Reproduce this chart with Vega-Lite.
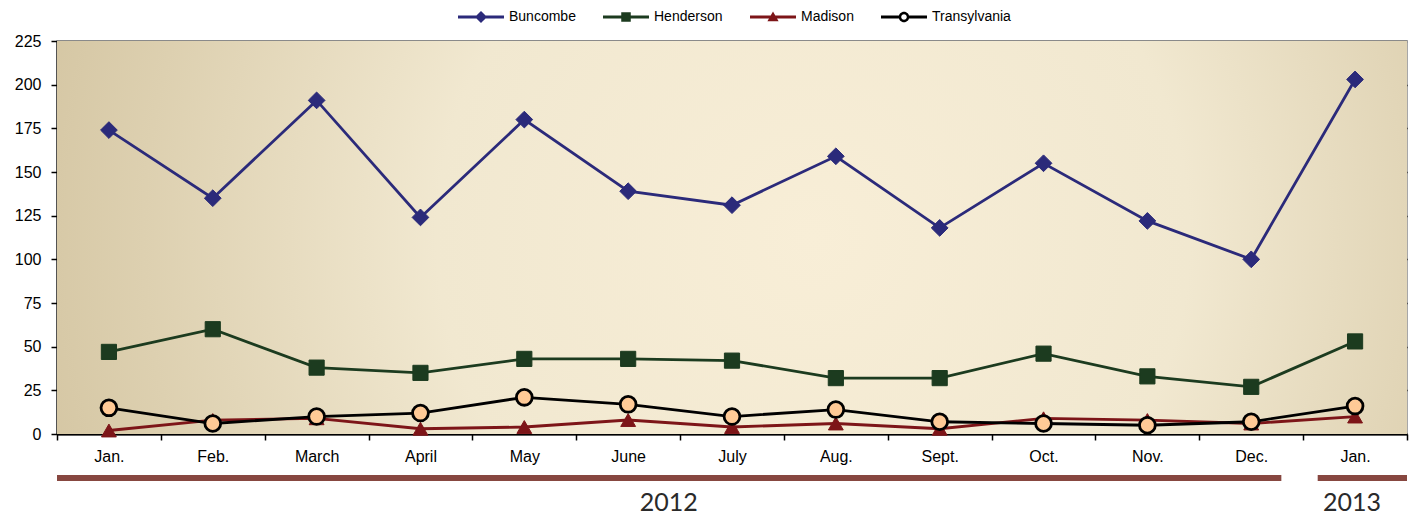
{
  "$schema": "https://vega.github.io/schema/vega-lite/v6.json",
  "padding": {"left": 13, "top": 10, "right": 7, "bottom": 0},
  "background": "white",
  "datasets": {
    "counts": [
      {"month": "Jan. 2012", "county": "Buncombe", "value": 174},
      {"month": "Feb. 2012", "county": "Buncombe", "value": 135},
      {"month": "March 2012", "county": "Buncombe", "value": 191},
      {"month": "April 2012", "county": "Buncombe", "value": 124},
      {"month": "May 2012", "county": "Buncombe", "value": 180},
      {"month": "June 2012", "county": "Buncombe", "value": 139},
      {"month": "July 2012", "county": "Buncombe", "value": 131},
      {"month": "Aug. 2012", "county": "Buncombe", "value": 159},
      {"month": "Sept. 2012", "county": "Buncombe", "value": 118},
      {"month": "Oct. 2012", "county": "Buncombe", "value": 155},
      {"month": "Nov. 2012", "county": "Buncombe", "value": 122},
      {"month": "Dec. 2012", "county": "Buncombe", "value": 100},
      {"month": "Jan. 2013", "county": "Buncombe", "value": 203},
      {"month": "Jan. 2012", "county": "Henderson", "value": 47},
      {"month": "Feb. 2012", "county": "Henderson", "value": 60},
      {"month": "March 2012", "county": "Henderson", "value": 38},
      {"month": "April 2012", "county": "Henderson", "value": 35},
      {"month": "May 2012", "county": "Henderson", "value": 43},
      {"month": "June 2012", "county": "Henderson", "value": 43},
      {"month": "July 2012", "county": "Henderson", "value": 42},
      {"month": "Aug. 2012", "county": "Henderson", "value": 32},
      {"month": "Sept. 2012", "county": "Henderson", "value": 32},
      {"month": "Oct. 2012", "county": "Henderson", "value": 46},
      {"month": "Nov. 2012", "county": "Henderson", "value": 33},
      {"month": "Dec. 2012", "county": "Henderson", "value": 27},
      {"month": "Jan. 2013", "county": "Henderson", "value": 53},
      {"month": "Jan. 2012", "county": "Madison", "value": 2},
      {"month": "Feb. 2012", "county": "Madison", "value": 8},
      {"month": "March 2012", "county": "Madison", "value": 9},
      {"month": "April 2012", "county": "Madison", "value": 3},
      {"month": "May 2012", "county": "Madison", "value": 4},
      {"month": "June 2012", "county": "Madison", "value": 8},
      {"month": "July 2012", "county": "Madison", "value": 4},
      {"month": "Aug. 2012", "county": "Madison", "value": 6},
      {"month": "Sept. 2012", "county": "Madison", "value": 3},
      {"month": "Oct. 2012", "county": "Madison", "value": 9},
      {"month": "Nov. 2012", "county": "Madison", "value": 8},
      {"month": "Dec. 2012", "county": "Madison", "value": 6},
      {"month": "Jan. 2013", "county": "Madison", "value": 10},
      {"month": "Jan. 2012", "county": "Transylvania", "value": 15},
      {"month": "Feb. 2012", "county": "Transylvania", "value": 6},
      {"month": "March 2012", "county": "Transylvania", "value": 10},
      {"month": "April 2012", "county": "Transylvania", "value": 12},
      {"month": "May 2012", "county": "Transylvania", "value": 21},
      {"month": "June 2012", "county": "Transylvania", "value": 17},
      {"month": "July 2012", "county": "Transylvania", "value": 10},
      {"month": "Aug. 2012", "county": "Transylvania", "value": 14},
      {"month": "Sept. 2012", "county": "Transylvania", "value": 7},
      {"month": "Oct. 2012", "county": "Transylvania", "value": 6},
      {"month": "Nov. 2012", "county": "Transylvania", "value": 5},
      {"month": "Dec. 2012", "county": "Transylvania", "value": 7},
      {"month": "Jan. 2013", "county": "Transylvania", "value": 16}
    ],
    "years": [
      {"year": "2012", "from": "Jan. 2012", "to": "Dec. 2012", "mid": "June 2012"},
      {"year": "2013", "from": "Jan. 2013", "to": "Jan. 2013", "mid": "Jan. 2013"}
    ]
  },
  "resolve": {"scale": {"x": "shared"}},
  "spacing": 10,
  "vconcat": [
    {
      "width": 1350,
      "height": 393,
      "data": {"name": "counts"},
      "encoding": {
        "x": {
          "field": "month",
          "type": "nominal",
          "scale": {
            "domain": ["Jan. 2012", "Feb. 2012", "March 2012", "April 2012", "May 2012", "June 2012", "July 2012", "Aug. 2012", "Sept. 2012", "Oct. 2012", "Nov. 2012", "Dec. 2012", "Jan. 2013"],
            "paddingInner": 0,
            "paddingOuter": 0
          },
          "axis": {
            "title": null,
            "labelAngle": 0,
            "labelExpr": "split(datum.label, ' ')[0]",
            "labelFont": "Liberation Sans",
            "labelFontSize": 16,
            "labelColor": "black",
            "labelPadding": 8,
            "tickBand": "extent",
            "tickColor": "black",
            "tickSize": 6,
            "tickWidth": 1.5,
            "domainColor": "black",
            "domainWidth": 2,
            "grid": false
          }
        },
        "y": {
          "field": "value",
          "type": "quantitative",
          "scale": {"domain": [0, 225], "nice": false},
          "axis": {
            "title": null,
            "values": [0, 25, 50, 75, 100, 125, 150, 175, 200, 225],
            "labelFont": "Liberation Sans",
            "labelFontSize": 16,
            "labelColor": "black",
            "labelPadding": 10,
            "tickColor": "black",
            "tickSize": 6,
            "tickWidth": 1.5,
            "domainColor": "black",
            "domainWidth": 2,
            "grid": true,
            "gridColor": {"condition": {"test": "datum.value === 225", "value": "#8a8a8a"}, "value": "black"},
            "gridWidth": {"condition": {"test": "datum.value === 225", "value": 3}, "value": 1.6},
            "gridOpacity": 1
          }
        }
      },
      "layer": [
        {
          "mark": {
            "type": "rect",
            "fill": {
              "gradient": "radial",
              "x1": 0.56, "y1": 0.5, "r1": 0,
              "x2": 0.56, "y2": 0.5, "r2": 0.62,
              "stops": [
                {"offset": 0, "color": "#f8eed7"},
                {"offset": 0.45, "color": "#f1e8d0"},
                {"offset": 0.8, "color": "#ddd0b0"},
                {"offset": 1, "color": "#d2c39f"}
              ]
            }
          },
          "encoding": {
            "x": null,
            "y": {"datum": 0, "type": "quantitative"},
            "y2": {"datum": 225}
          }
        },
        {
          "transform": [{"filter": "datum.county === 'Buncombe'"}],
          "mark": {
            "type": "line", "strokeWidth": 2.8, "color": "#2b2a7a",
            "point": {"shape": "diamond", "size": 280, "filled": true, "fill": "#2b2a7a", "stroke": "#2b2a7a", "strokeWidth": 1, "opacity": 1}
          }
        },
        {
          "transform": [{"filter": "datum.county === 'Henderson'"}],
          "mark": {
            "type": "line", "strokeWidth": 2.8, "color": "#1c3b1f",
            "point": {"shape": "square", "size": 230, "filled": true, "fill": "#1c3b1f", "stroke": "#1c3b1f", "strokeWidth": 1, "opacity": 1}
          }
        },
        {
          "transform": [{"filter": "datum.county === 'Madison'"}],
          "mark": {
            "type": "line", "strokeWidth": 2.8, "color": "#7d1518",
            "point": {"shape": "triangle-up", "size": 220, "filled": true, "fill": "#7d1518", "stroke": "#7d1518", "strokeWidth": 1, "opacity": 1}
          }
        },
        {
          "transform": [{"filter": "datum.county === 'Transylvania'"}],
          "mark": {
            "type": "line", "strokeWidth": 2.8, "color": "#000000",
            "point": {"shape": "circle", "size": 250, "filled": true, "fill": "#ffca96", "stroke": "#000000", "strokeWidth": 2.8, "opacity": 1}
          }
        },
        {
          "transform": [{"filter": "false"}],
          "mark": {"type": "point", "filled": true, "opacity": 1},
          "encoding": {
            "color": {
              "field": "county",
              "type": "nominal",
              "scale": {
                "domain": ["Buncombe", "Henderson", "Madison", "Transylvania"],
                "range": ["#2b2a7a", "#1c3b1f", "#7d1518", "#000000"]
              },
              "legend": {
                "orient": "none",
                "direction": "horizontal",
                "legendX": 436,
                "legendY": -31,
                "title": null,
                "symbolSize": 196,
                "symbolOpacity": 1,
                "symbolStrokeWidth": 0,
                "labelFont": "Liberation Sans",
                "labelFontSize": 14,
                "labelColor": "black",
                "labelOffset": 2,
                "columnPadding": 27
              }
            },
            "shape": {
              "field": "county",
              "type": "nominal",
              "scale": {
                "domain": ["Buncombe", "Henderson", "Madison", "Transylvania"],
                "range": [
                  "M-6,-0.21H0.571V0.21H-6Z M-2.714,-0.86L-1.854,0L-2.714,0.86L-3.574,0Z",
                  "M-6,-0.21H0.571V0.21H-6Z M-3.394,-0.68H-2.034V0.68H-3.394Z",
                  "M-6,-0.21H0.571V0.21H-6Z M-2.714,-0.8L-1.914,0.6H-3.514Z",
                  "M-6,-0.21H-3.434V0.21H-6Z M-1.994,-0.21H0.571V0.21H-1.994Z M-3.464,0A0.75,0.75 0 1,1 -1.964,0A0.75,0.75 0 1,1 -3.464,0Z M-3.114,0A0.4,0.4 0 1,0 -2.314,0A0.4,0.4 0 1,0 -3.114,0Z"
                ]
              }
            }
          }
        }
      ]
    },
    {
      "width": 1350,
      "height": 6,
      "view": {"stroke": null},
      "data": {"name": "years"},
      "layer": [
        {
          "transform": [{"filter": "datum.year === '2012'"}],
          "mark": {"type": "rule", "strokeWidth": 6, "color": "#874740"},
          "encoding": {
            "x": {"field": "from", "type": "nominal", "bandPosition": 0, "axis": null},
            "x2": {"field": "to", "bandPosition": 0.79}
          }
        },
        {
          "transform": [{"filter": "datum.year === '2013'"}],
          "mark": {"type": "rule", "strokeWidth": 6, "color": "#874740"},
          "encoding": {
            "x": {"field": "from", "type": "nominal", "bandPosition": 0.14, "axis": null},
            "x2": {"field": "to", "bandPosition": 1}
          }
        }
      ]
    },
    {
      "width": 1350,
      "height": 18,
      "view": {"stroke": null},
      "data": {"name": "years"},
      "layer": [
        {
          "transform": [{"filter": "datum.year === '2012'"}],
          "mark": {"type": "text", "font": "Lato", "fontSize": 25, "color": "#2a2a2a"},
          "encoding": {
            "x": {"field": "mid", "type": "nominal", "bandPosition": 0.89, "axis": null},
            "text": {"field": "year"}
          }
        },
        {
          "transform": [{"filter": "datum.year === '2013'"}],
          "mark": {"type": "text", "font": "Lato", "fontSize": 25, "color": "#2a2a2a"},
          "encoding": {
            "x": {"field": "mid", "type": "nominal", "bandPosition": 0.47, "axis": null},
            "text": {"field": "year"}
          }
        }
      ]
    }
  ],
  "config": {
    "view": {"stroke": "#8a8a8a", "strokeWidth": 1.5},
    "concat": {"spacing": 10}
  }
}
